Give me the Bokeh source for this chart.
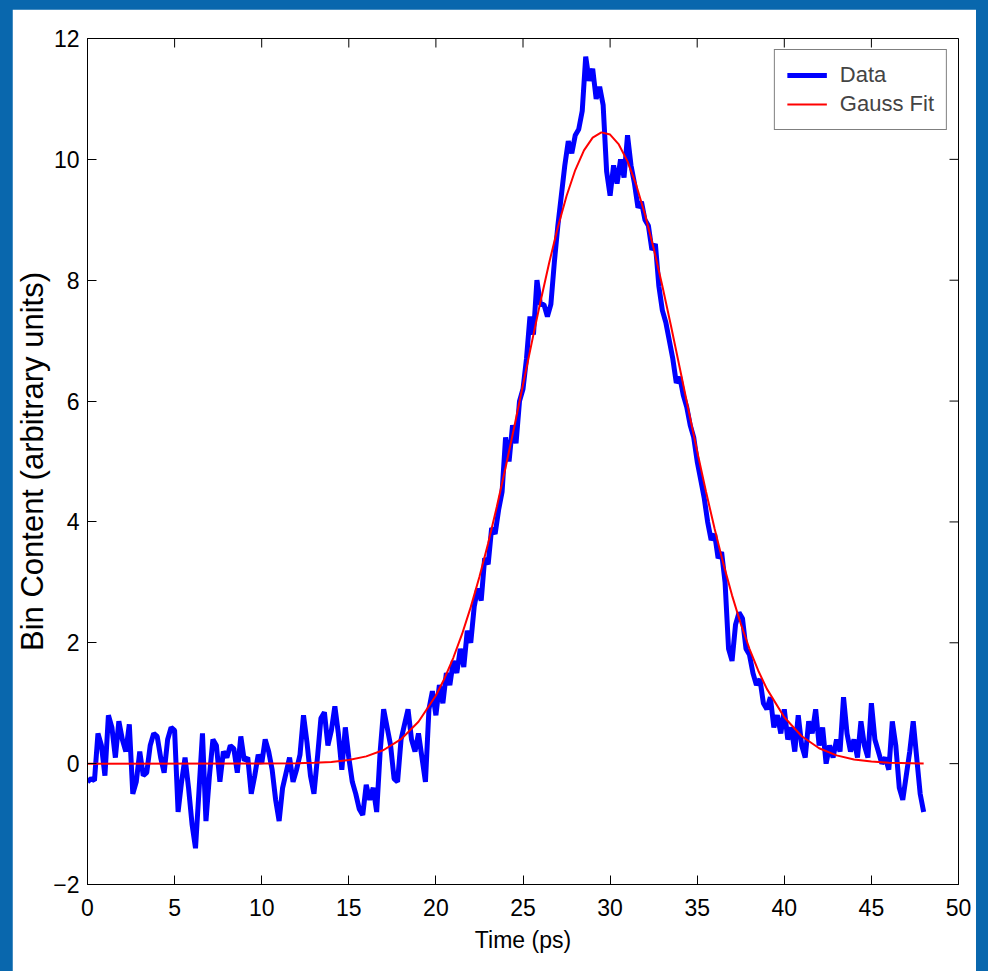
from bokeh.plotting import figure
from bokeh.models import (Legend, LegendItem, FixedTicker, Range1d,
                          GlobalInlineStyleSheet)
from bokeh.embed import file_html
from bokeh.resources import INLINE

# ---------------- data ----------------
time_step = 0.2  # ps, spacing of the data samples starting at 0 ps
data_values = [
    -0.30, -0.25, -0.28, 0.50, 0.30, -0.20, 0.80, 0.60, 0.10, 0.70, 0.40,   # 0.0-2.0
    0.20, 0.65, -0.50, -0.30, 0.20, -0.20, -0.15, 0.30, 0.50, 0.45,          # 2.2-4.0
    0.10, -0.15, 0.40, 0.60, 0.55, -0.80, -0.30, 0.10, -0.40, -1.00,         # 4.2-6.0
    -1.40, -0.45, 0.50, -0.95, -0.20, 0.40, 0.30, -0.30, 0.20, 0.10,         # 6.2-8.0
    0.30, 0.25, -0.15, 0.45, 0.05, 0.10, -0.50, -0.20, 0.15, 0.00,           # 8.2-10.0
    0.40, 0.20, -0.10, -0.60, -0.95, -0.40, -0.15, 0.10, -0.30, -0.10,       # 10.2-12.0
    0.15, 0.80, 0.35, -0.20, -0.50, 0.10, 0.75, 0.85, 0.30, 0.55,            # 12.2-14.0
    0.95, 0.50, -0.10, 0.60, 0.10, -0.30, -0.50, -0.75, -0.85, -0.35,        # 14.2-16.0
    -0.60, -0.40, -0.80, 0.20, 0.90, 0.60, 0.30, -0.25, -0.30, 0.40,         # 16.2-18.0
    0.65, 0.90, 0.40, 0.20, 0.50, 0.10, -0.30, 0.90, 1.20, 0.80,             # 18.2-20.0
    1.30, 1.00, 1.50, 1.30, 1.70, 1.50, 1.90, 1.60, 2.20, 2.00,              # 20.2-22.0
    2.60, 2.90, 2.70, 3.40, 3.30, 3.90, 3.80, 4.20, 4.50, 5.40,              # 22.2-24.0
    5.00, 5.60, 5.30, 6.00, 6.20, 6.70, 7.40, 7.10, 8.00, 7.60,              # 24.2-26.0
    7.60, 7.40, 7.60, 8.30, 8.90, 9.40, 9.90, 10.30, 10.10, 10.40,           # 26.2-28.0
    10.50, 10.80, 11.70, 11.30, 11.50, 11.00, 11.20, 10.90, 9.80, 9.40,      # 28.2-30.0
    9.90, 9.60, 10.00, 9.70, 10.40, 9.90, 9.60, 9.20, 9.30, 9.00,            # 30.2-32.0
    8.90, 8.50, 8.60, 7.90, 7.50, 7.30, 7.00, 6.70, 6.30, 6.40,              # 32.2-34.0
    6.10, 5.90, 5.60, 5.40, 5.00, 4.70, 4.40, 4.00, 3.70, 3.80,              # 34.2-36.0
    3.40, 3.50, 3.00, 1.90, 1.70, 2.30, 2.50, 2.40, 1.90, 1.80,              # 36.2-38.0
    1.50, 1.30, 1.40, 1.00, 0.90, 1.10, 0.60, 0.80, 0.50, 0.90,              # 38.2-40.0
    0.40, 0.60, 0.20, 0.80, 0.30, 0.10, 0.70, 0.50, 0.90, 0.30,              # 40.2-42.0
    0.60, 0.00, 0.30, 0.10, 0.40, 0.20, 1.10, 0.50, 0.20, 0.40,              # 42.2-44.0
    0.10, 0.70, 0.30, 0.10, 1.00, 0.40, 0.20, 0.00, 0.10, -0.10,             # 44.2-46.0
    0.70, 0.30, -0.40, -0.60, -0.20, 0.20, 0.70, 0.10, -0.50, -0.80,         # 46.2-48.0
]
data_time = [round(i * time_step, 1) for i in range(len(data_values))]

fit_time = [0, 10, 12, 13, 14, 15, 16, 17, 18, 19, 20, 20.5, 21, 21.5, 22, 22.5,
            23, 23.5, 24, 24.5, 25, 25.5, 26, 26.5, 27, 27.5, 28, 28.5, 29, 29.5,
            30, 30.5, 31, 31.5, 32, 32.5, 33, 33.5, 34, 34.5, 35, 35.5, 36, 36.5,
            37, 37.5, 38, 38.5, 39, 40, 41, 42, 43, 44, 45, 46, 48]
fit_values = [0.0, 0.002, 0.006, 0.013, 0.029, 0.061, 0.120, 0.226, 0.405, 0.693,
              1.128, 1.414, 1.752, 2.142, 2.590, 3.093, 3.649, 4.254, 4.900, 5.576,
              6.269, 6.963, 7.641, 8.286, 8.875, 9.394, 9.823, 10.149, 10.359, 10.447,
              10.410, 10.247, 9.967, 9.577, 9.092, 8.529, 7.904, 7.238, 6.547, 5.852,
              5.167, 4.508, 3.886, 3.310, 2.785, 2.315, 1.901, 1.542, 1.237, 0.767,
              0.453, 0.255, 0.137, 0.070, 0.034, 0.016, 0.002]

x_ticks = [0, 5, 10, 15, 20, 25, 30, 35, 40, 45, 50]
y_ticks = [-2, 0, 2, 4, 6, 8, 10, 12]

FONT = "Liberation Sans"

# ---------------- figure ----------------
p = figure(width=964, height=962, x_range=Range1d(0, 50), y_range=Range1d(-2, 12),
           output_backend="svg", toolbar_location=None,
           min_border_left=75, min_border_right=18, min_border_top=29, min_border_bottom=87)
p.stylesheets = [GlobalInlineStyleSheet(
    css="body { background-color: #0967ad; padding-left: 12px; padding-top: 9px; }")]
p.background_fill_color = "white"
p.border_fill_color = "white"
p.outline_line_color = "black"
p.grid.visible = False

r_data = p.line(data_time, data_values, color="#0000ff", line_width=5)
r_fit = p.line(fit_time, fit_values, color="#ff0000", line_width=2)

for ax in (p.xaxis[0], p.yaxis[0]):
    ax.major_tick_in = 9
    ax.major_tick_out = 0
    ax.minor_tick_line_color = None
    ax.axis_line_color = "black"
    ax.major_tick_line_color = "black"
    ax.major_label_text_font = FONT
    ax.major_label_text_font_size = "23px"
    ax.major_label_text_color = "black"
    ax.axis_label_text_font = FONT
    ax.axis_label_text_font_style = "normal"
    ax.axis_label_text_color = "black"

p.xaxis[0].ticker = FixedTicker(ticks=x_ticks)
p.yaxis[0].ticker = FixedTicker(ticks=y_ticks)
p.xaxis[0].axis_label = "Time (ps)"
p.xaxis[0].axis_label_text_font_size = "23px"
p.xaxis[0].major_label_standoff = 14
p.xaxis[0].axis_label_standoff = 8
p.yaxis[0].axis_label = "Bin Content (arbitrary units)"
p.yaxis[0].axis_label_text_font_size = "31px"
p.yaxis[0].major_label_standoff = 8
p.yaxis[0].axis_label_standoff = 0

# inward ticks on the top and right edges of the box (mirrored axes)
n_x = len(x_ticks)
n_y = len(y_ticks)
p.ray(x=x_ticks, y=[y_ticks[-1]] * n_x, length=9, length_units="screen",
      angle=-90, angle_units="deg", line_color="black", line_width=1)
p.ray(x=[x_ticks[-1]] * n_y, y=y_ticks, length=9, length_units="screen",
      angle=180, angle_units="deg", line_color="black", line_width=1)

legend = Legend(items=[LegendItem(label="Data", renderers=[r_data]),
                       LegendItem(label="Gauss Fit", renderers=[r_fit])],
                location="top_right", margin=11, padding=12, spacing=3,
                glyph_width=40, glyph_height=20, label_height=20, label_standoff=13,
                label_text_font=FONT, label_text_font_size="22px",
                border_line_color="black", border_line_width=1,
                background_fill_color="white", background_fill_alpha=1.0)
p.add_layout(legend)

open("out.html", "w").write(file_html(p, INLINE))
